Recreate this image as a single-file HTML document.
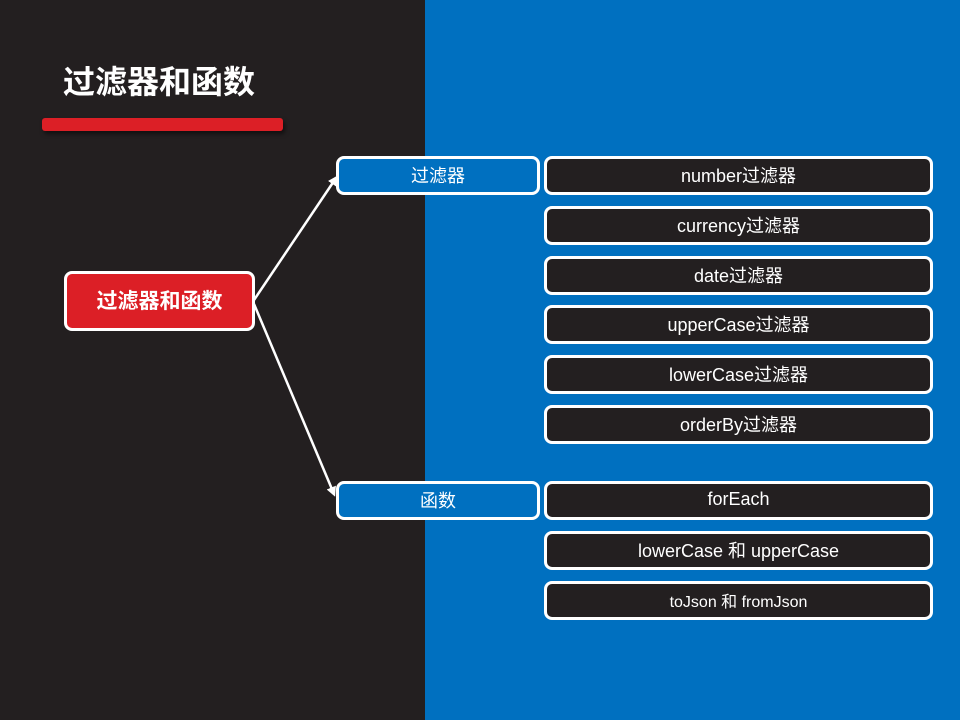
<!DOCTYPE html>
<html><head><meta charset="utf-8"><style>
*{margin:0;padding:0;box-sizing:border-box}
body{width:960px;height:720px;position:relative;overflow:hidden;background:#231f20;font-family:"Liberation Sans","Noto Sans CJK SC",sans-serif;color:#fff}
.blue{position:absolute;left:425px;top:0;width:535px;height:720px;background:#0070c0}
.title{position:absolute;left:63px;top:61px;font-size:32px;font-weight:bold;line-height:42px}
.bar{position:absolute;left:42px;top:118px;width:241px;height:13px;background:#dc1f26;border-radius:3px;box-shadow:2px 3px 4px rgba(0,0,0,.5)}
.box{position:absolute;display:flex;align-items:center;justify-content:center;border:3px solid #fff;border-radius:8px;font-size:18px;padding-bottom:2px}
.c{left:64px;top:271px;width:191px;height:60px;background:#dc1f26;font-weight:bold;font-size:21px}
.b{background:#0070c0;width:204px;height:39px;left:336px}
.d{background:#231f20;left:544px;width:389px;height:39px}
</style></head><body>
<div class="blue"></div>
<div class="title">过滤器和函数</div>
<div class="bar"></div>
<svg width="960" height="720" style="position:absolute;left:0;top:0">
<defs><marker id="a" markerWidth="10" markerHeight="10" refX="7" refY="5" orient="auto" markerUnits="userSpaceOnUse"><path d="M0,0 L10,5 L0,10 z" fill="#fff"/></marker></defs>
<line x1="254" y1="300" x2="336" y2="178" stroke="#fff" stroke-width="2.5" marker-end="url(#a)"/>
<line x1="254" y1="304" x2="334" y2="494" stroke="#fff" stroke-width="2.5" marker-end="url(#a)"/>
</svg>
<div class="box c">过滤器和函数</div>
<div class="box b" style="top:156px">过滤器</div>
<div class="box b" style="top:481px">函数</div>
<div class="box d" style="top:156px">number过滤器</div>
<div class="box d" style="top:206px">currency过滤器</div>
<div class="box d" style="top:256px">date过滤器</div>
<div class="box d" style="top:305px">upperCase过滤器</div>
<div class="box d" style="top:355px">lowerCase过滤器</div>
<div class="box d" style="top:405px">orderBy过滤器</div>
<div class="box d" style="top:481px">forEach</div>
<div class="box d" style="top:531px">lowerCase 和 upperCase</div>
<div class="box d" style="top:581px;font-size:16px">toJson 和 fromJson</div>
</body></html>
